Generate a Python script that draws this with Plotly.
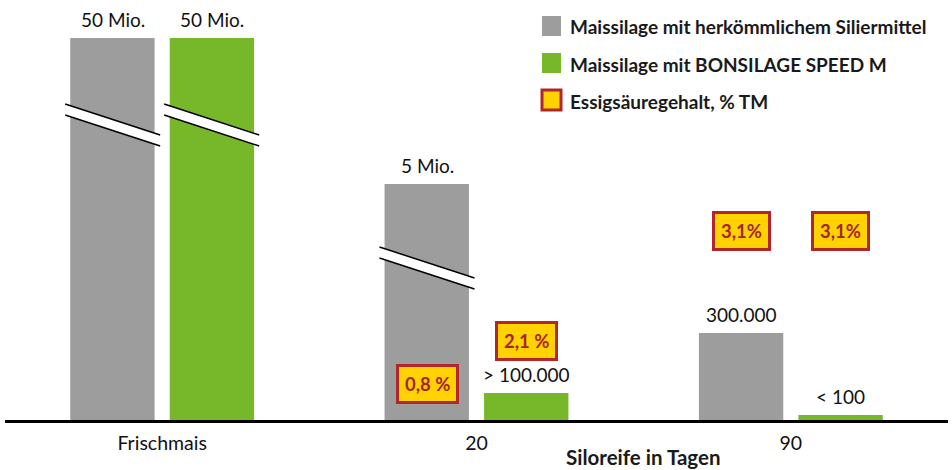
import plotly.graph_objects as go

# ---- data ----
categories = ["Frischmais", "20", "90"]
series_names = ["Maissilage mit herkömmlichem Siliermittel",
                "Maissilage mit BONSILAGE SPEED M"]
acid_legend = "Essigsäuregehalt, % TM"
# displayed bar heights (chart uses broken, non-proportional bars)
gray_heights = [382, 236, 87]
green_heights = [382, 27, 5]
gray_labels = ["50 Mio.", "5 Mio.", "300.000"]
green_labels = ["50 Mio.", "> 100.000", "< 100"]
# acetic acid content, % TM
acid_gray = [None, "0,8 %", "3,1%"]
acid_green = [None, "2,1 %", "3,1%"]
acid_y_gray = [None, 36, 189]
acid_y_green = [None, 79, 189]
# broken bars: (category index, series 0/1, top-left y of break band)
breaks = [(0, 0, 316), (0, 1, 316), (1, 0, 173)]

GRAY = "#9D9D9D"
GREEN = "#77B82A"
FONT = "Lato"

W, H = 952, 470
ML, MR, MT, MB = 5, 4, 0, 50
PW = W - ML - MR
PH = H - MT - MB
PX_PER_CAT = PW / 3.0
OFF = 49.5 / PX_PER_CAT

fig = go.Figure()
fig.add_trace(go.Bar(x=categories, y=gray_heights, name=series_names[0],
                     marker=dict(color=GRAY, line=dict(width=0)), showlegend=False))
fig.add_trace(go.Bar(x=categories, y=green_heights, name=series_names[1],
                     marker=dict(color=GREEN, line=dict(width=0)), showlegend=False))

ann = []
# value labels above bars
for i, c in enumerate(categories):
    for s, (h, lab) in enumerate([(gray_heights[i], gray_labels[i]),
                                  (green_heights[i], green_labels[i])]):
        xc = i + (-OFF if s == 0 else OFF)
        ann.append(dict(x=xc, y=h, xref="x", yref="y", text=lab, showarrow=False,
                        xanchor="center", yanchor="bottom", yshift=5,
                        font=dict(family=FONT, size=19, color="#111111")))
# acid boxes
for i in range(len(categories)):
    for s, (t, yv) in enumerate([(acid_gray[i], acid_y_gray[i]),
                                 (acid_green[i], acid_y_green[i])]):
        if t is None:
            continue
        xc = i + (-OFF if s == 0 else OFF)
        ann.append(dict(x=xc, y=yv, xref="x", yref="y", text="<b>%s</b>" % t,
                        showarrow=False, xanchor="center", yanchor="middle",
                        bgcolor="#FFD200", bordercolor="#B0262A",
                        borderwidth=3, borderpad=6,
                        font=dict(family=FONT, size=18.5, color="#A8232A")))

shapes = []
# break marks
hx = 47.5 / PX_PER_CAT
for (i, s, yt) in breaks:
    xc = i + (-OFF if s == 0 else OFF)
    x0, x1 = xc - hx, xc + hx
    path = "M %f %f L %f %f L %f %f L %f %f Z" % (x0, yt, x1, yt - 31, x1, yt - 42, x0, yt - 11)
    shapes.append(dict(type="path", path=path, xref="x", yref="y",
                       fillcolor="white", line=dict(width=0)))
    for dy in (0, 11):
        shapes.append(dict(type="line", xref="x", yref="y", x0=x0, y0=yt - dy,
                           x1=x1, y1=yt - 31 - dy, line=dict(color="black", width=1.5)))

# manual legend
def px(x):
    return (x - ML) / PW
def py(y):
    return (MT + PH - y) / PH

leg_rows = [(series_names[0], GRAY, None), (series_names[1], GREEN, None),
            (acid_legend, "#FFD200", "#B0262A")]
for k, (name, fc, lc) in enumerate(leg_rows):
    yc = 26 + 37 * k
    shapes.append(dict(type="rect", xref="paper", yref="paper",
                       x0=px(542), x1=px(561), y0=py(yc + 10), y1=py(yc - 10),
                       fillcolor=fc,
                       line=dict(color=lc if lc else fc, width=3 if lc else 0)))
    ann.append(dict(x=px(568), y=py(yc + 1), xref="paper", yref="paper",
                    text="<b>%s</b>" % name, showarrow=False,
                    xanchor="left", yanchor="middle",
                    font=dict(family=FONT, size=19, color="#1a1a1a")))

# axis title
ann.append(dict(x=px(643), y=py(457), xref="paper", yref="paper",
                text="<b>Siloreife in Tagen</b>", showarrow=False,
                xanchor="center", yanchor="middle",
                font=dict(family=FONT, size=20.5, color="#1a1a1a")))

fig.update_layout(
    width=W, height=H, margin=dict(l=ML, r=MR, t=MT, b=MB, autoexpand=False),
    paper_bgcolor="white", plot_bgcolor="white",
    barmode="group", bargap=0.367, bargroupgap=0.152,
    showlegend=False,
    annotations=ann, shapes=shapes,
    xaxis=dict(type="category", range=[-0.5, 2.5], showline=True, linecolor="black",
               linewidth=3, ticks="", showgrid=False, zeroline=False,
               ticklabelstandoff=4,
               tickfont=dict(family=FONT, size=19.5, color="#111111")),
    yaxis=dict(range=[0, PH], visible=False, showgrid=False, zeroline=False),
)
fig.write_html("out.html", config={"displayModeBar": False},
               post_script="document.body.style.margin='0';document.body.style.overflow='hidden';")
